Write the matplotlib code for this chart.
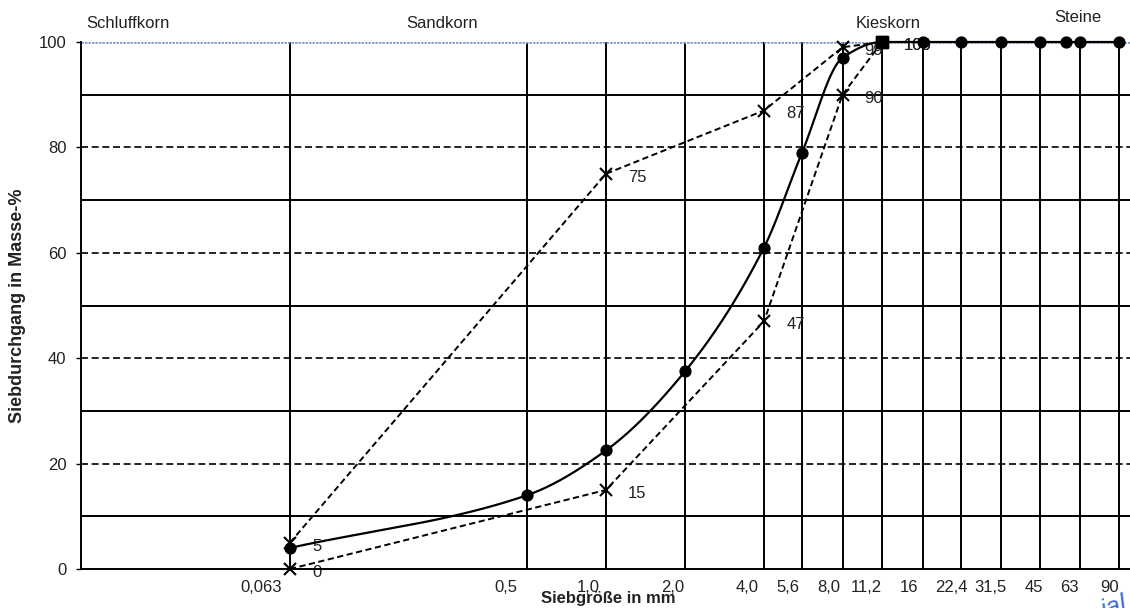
import numpy as np
import matplotlib
matplotlib.use("Agg")
import matplotlib.pyplot as plt
from matplotlib.transforms import ScaledTranslation
from matplotlib.ticker import NullLocator

plt.rcParams['font.family'] = ['Liberation Sans', 'DejaVu Sans']

# ---------------------------------------------------------------- data
sieve_mm = [0.063, 0.5, 1.0, 2.0, 4.0, 5.6, 8.0, 11.2, 16, 22.4, 31.5, 45, 63, 90]
sieve_labels = ["0,063", "0,5", "1,0", "2,0", "4,0", "5,6", "8,0", "11,2",
                "16", "22,4", "31,5", "45", "63", "90"]

# measured grading curve (Siebdurchgang in %)
sample_mm = [0.063, 0.5, 1.0, 2.0, 4.0, 5.6, 8.0, 11.2, 16, 22.4, 31.5, 45, 56, 63, 90]
sample_pass = [4, 14, 22.5, 37.5, 61, 79, 97, 100, 100, 100, 100, 100, 100, 100, 100]

# grading envelope
upper_mm = [0.063, 1.0, 4.0, 8.0, 11.2]
upper_pass = [5, 75, 87, 99, 100]
lower_mm = [0.063, 1.0, 4.0, 8.0, 11.2]
lower_pass = [0, 15, 47, 90, 100]

fractions = ["Schluffkorn", "Sandkorn", "Kieskorn", "Steine"]

y_ticks = [0, 20, 40, 60, 80, 100]
y_solid_grid = [10, 30, 50, 70, 90]
y_dashed_grid = [20, 40, 60, 80]

# ---------------------------------------------------------------- layout
W, H = 1130, 608
AX_L, AX_TOP, AX_BOT = 81, 42, 569
# horizontal distance (px) of each sieve gridline from the left axis
grid_pos = [209, 446, 525, 604, 683, 721, 761.5, 801, 842, 880, 920, 959, 999, 1038]
# horizontal nudge (px) of each sieve label relative to its gridline
label_nudge = [-29, -21, -18, -12, -17, -14, -14, -16, -14, -10, -11, -6, -11, -9]
fraction_xy = [(128, 23), (442, 23), (888, 24), (1078, 17)]

TXT = '#222222'

LOGS = np.log10(np.array(sieve_mm, float))
POS = np.array(grid_pos, float)


def _piecewise(v, xs, ys):
    v = np.asarray(v, float)
    out = np.interp(v, xs, ys)
    lo_slope = (ys[1] - ys[0]) / (xs[1] - xs[0])
    hi_slope = (ys[-1] - ys[-2]) / (xs[-1] - xs[-2])
    out = np.where(v < xs[0], ys[0] + (v - xs[0]) * lo_slope, out)
    out = np.where(v > xs[-1], ys[-1] + (v - xs[-1]) * hi_slope, out)
    return out


def size_to_pos(x):
    x = np.clip(np.asarray(x, float), 1e-9, None)
    return _piecewise(np.log10(x), LOGS, POS)


def pos_to_size(p):
    return 10 ** _piecewise(p, POS, LOGS)


def monotone_cubic(x, y, xs):
    """Fritsch-Carlson monotone cubic interpolation."""
    x = np.asarray(x, float)
    y = np.asarray(y, float)
    h = np.diff(x)
    d = np.diff(y) / h
    m = np.zeros_like(y)
    m[0], m[-1] = d[0], d[-1]
    for k in range(1, len(x) - 1):
        if d[k - 1] * d[k] <= 0:
            m[k] = 0.0
        else:
            w1 = 2 * h[k] + h[k - 1]
            w2 = h[k] + 2 * h[k - 1]
            m[k] = (w1 + w2) / (w1 / d[k - 1] + w2 / d[k])
    idx = np.clip(np.searchsorted(x, xs) - 1, 0, len(x) - 2)
    t = (xs - x[idx]) / h[idx]
    h00 = 2 * t**3 - 3 * t**2 + 1
    h10 = t**3 - 2 * t**2 + t
    h01 = -2 * t**3 + 3 * t**2
    h11 = t**3 - t**2
    return (h00 * y[idx] + h10 * h[idx] * m[idx]
            + h01 * y[idx + 1] + h11 * h[idx] * m[idx + 1])


# ---------------------------------------------------------------- figure
fig = plt.figure(figsize=(W / 100, H / 100), dpi=100)
ax = fig.add_axes([AX_L / W, (H - AX_BOT) / H, (W - AX_L) / W, (AX_BOT - AX_TOP) / H])
ax.set_xscale('function', functions=(size_to_pos, pos_to_size))
ax.set_xlim(pos_to_size(0.0), pos_to_size(W - AX_L))
ax.set_ylim(0, 100)

# grid
GRID_LW = 1.4
ax.vlines(sieve_mm, 0, 100, colors='black', lw=GRID_LW, zorder=1)
ax.hlines(y_solid_grid, *ax.get_xlim(), colors='black', lw=GRID_LW, zorder=1)
for yv in y_dashed_grid:
    ax.axhline(yv, color='black', lw=1.2, dashes=(4.2, 2.2), zorder=1)
ax.axhline(100, color='#7f96bf', lw=1.8, ls=(0, (1.0, 0.4)), zorder=1)

for side in ('top', 'right'):
    ax.spines[side].set_visible(False)
for side in ('left', 'bottom'):
    ax.spines[side].set_linewidth(GRID_LW)
    ax.spines[side].set_color('black')

# axes ticks
ax.set_yticks(y_ticks)
ax.tick_params(axis='y', length=3.5, width=1.0, pad=7, labelsize=12, colors='black',
               labelcolor=TXT)
ax.set_xticks(sieve_mm)
ax.set_xticklabels(sieve_labels)
ax.xaxis.set_minor_locator(NullLocator())
ax.tick_params(axis='x', length=0, pad=8, labelsize=12, labelcolor=TXT)
for lab, dx in zip(ax.get_xticklabels(), label_nudge):
    lab.set_transform(lab.get_transform() + ScaledTranslation(dx / 100, 0, fig.dpi_scale_trans))

# grading envelope (dashed)
for xs_, ys_ in ((upper_mm, upper_pass), (lower_mm, lower_pass)):
    ax.plot(xs_, ys_, color='black', lw=1.4, dashes=(3.2, 1.8), zorder=3,
            marker='x', markersize=8, markeredgewidth=1.5, markevery=list(range(len(xs_) - 1)),
            clip_on=False)
    ax.plot(xs_[-1:], ys_[-1:], ls='none', marker='s', markersize=8.5, color='black',
            zorder=5, clip_on=False)
    for xv, yv in zip(xs_, ys_):
        ax.annotate(f"{yv:g}", (xv, yv), xytext=(16, -2.5), textcoords='offset points',
                    ha='left', va='center', fontsize=12, color=TXT, zorder=2,
                    annotation_clip=False)

# measured grading curve (smoothed)
p_sample = size_to_pos(sample_mm)
p_fine = np.linspace(p_sample[0], p_sample[-1], 800)
y_fine = monotone_cubic(p_sample, sample_pass, p_fine)
ax.plot(pos_to_size(p_fine), y_fine, color='black', lw=1.6, zorder=3, clip_on=False)
ax.plot(sample_mm, sample_pass, ls='none', marker='o', markersize=7.8, color='black',
        zorder=4, clip_on=False)

# soil fraction headings
for name, (fx, fy) in zip(fractions, fraction_xy):
    fig.text(fx / W, 1 - fy / H, name, ha='center', va='center', fontsize=12, color=TXT)

# axis titles
fig.text(18 / W, 1 - 306 / H, "Siebdurchgang in Masse-%", rotation=90, ha='center',
         va='center', fontsize=13, fontweight='bold', color=TXT)
fig.text(608 / W, 1 - 598 / H, "Siebgröße in mm", ha='center', va='center',
         fontsize=12, fontweight='bold', color=TXT)

# stamp in the corner
fig.text(1129 / W, 1 - 610 / H, "ial", rotation=18, rotation_mode='anchor',
         ha='right', va='baseline', fontsize=19, color='#3a6fd8', style='italic')

fig.savefig("out.png", dpi=100)
